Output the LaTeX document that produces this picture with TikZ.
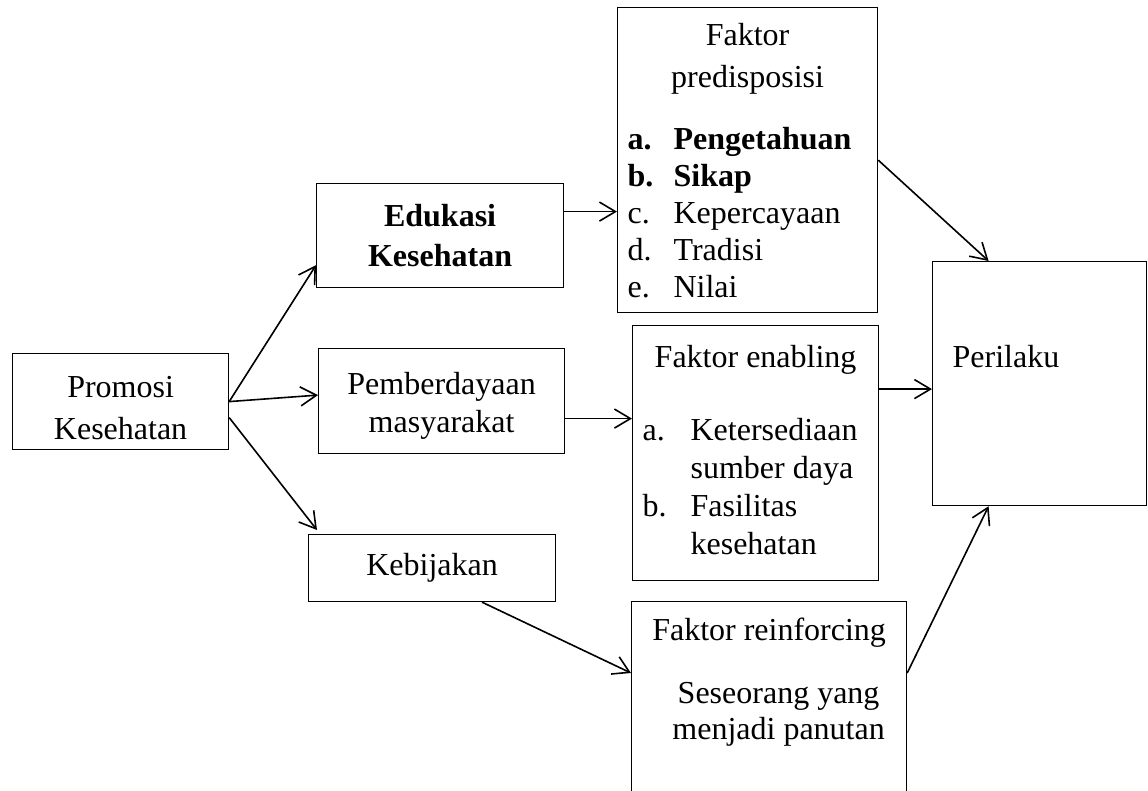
\documentclass[tikz,border=0pt]{standalone}
\usepackage{fontspec}
\setmainfont{Liberation Serif}
\usetikzlibrary{arrows.meta, positioning}

\begin{document}
\begin{tikzpicture}[x=0.5pt, y=-0.5pt,
    box/.style={draw, line width=0.6pt, inner sep=0pt, align=center,
      font=\fontsize{16}{21}\selectfont},
    arr/.style={-{Straight Barb[length=8pt,width=9.5pt]}, line width=0.8pt}]
      \useasboundingbox (0,0) rectangle (1148,791);
      \clip (0,0) rectangle (1148,791);
      \node[box, anchor=north west, minimum width=108pt, minimum height=48pt] (promosi) at (12,353) {\rule{0pt}{17pt}Promosi\\Kesehatan};
      \node[box, anchor=north west, minimum width=123.5pt, minimum height=52pt,
        font=\fontsize{16}{20}\selectfont\bfseries] (edukasi) at (316,183) {Edukasi\\Kesehatan};
      \node[box, anchor=north west, minimum width=123pt, minimum height=52.5pt,
        font=\fontsize{16}{19}\selectfont] (pemberdayaan) at (318,348) {\rule{0pt}{16pt}Pemberdayaan\\masyarakat};
      \node[box, anchor=north west, minimum width=123.5pt, minimum height=33.5pt] (kebijakan) at (308,534) {Kebijakan};
      \node[box, anchor=north west, minimum width=130pt, minimum height=152.5pt, inner xsep=5pt,
        font=\fontsize{16}{18.5}\selectfont] (predisposisi) at (617,7) {%
        \begin{tabular}{@{}p{23pt}@{}p{97pt}@{}}
          \multicolumn{2}{@{}c@{}}{\rule{0pt}{17pt}Faktor}\\[2.5pt]
          \multicolumn{2}{@{}c@{}}{predisposisi}\\[12.5pt]
          \textbf{a.} & \textbf{Pengetahuan}\\
          \textbf{b.} & \textbf{Sikap}\\
          c. & Kepercayaan\\
          d. & Tradisi\\
          e. & Nilai
        \end{tabular}};
      \node[box, anchor=north west, minimum width=123pt, minimum height=127.5pt, inner xsep=5pt,
        font=\fontsize{16}{19}\selectfont] (enabling) at (632,325) {%
        \begin{tabular}{@{}p{24pt}@{}p{89pt}@{}}
          \multicolumn{2}{@{}c@{}}{Faktor enabling}\\[17.5pt]
          a. & Ketersediaan\\
             & sumber daya\\
          b. & Fasilitas\\
             & kesehatan
        \end{tabular}};
      \node[box, anchor=north west, minimum width=137.5pt, inner ysep=7pt,
        font=\fontsize{16}{18}\selectfont] (reinforcing) at (631,601) {%
        \begin{tabular}{@{}c@{}}
          Faktor reinforcing\\[13.5pt]
          \hspace*{9.5pt}Seseorang yang\\
          \hspace*{9.5pt}menjadi panutan\\[70pt]
        \end{tabular}};
      \node[box, anchor=north west, inner xsep=10pt, text width=87pt, align=left,
        text height=53pt, text depth=69pt] (perilaku) at (932,261) {Perilaku};
      \draw[arr] (promosi.east) -- ([yshift=11.5pt]edukasi.south west);
      \draw[arr] (promosi.east) -- ([yshift=3pt]pemberdayaan.west);
      \draw[arr] ([yshift=-8pt]promosi.east) -- ([xshift=4.5pt,yshift=2pt]kebijakan.north west);
      \coordinate (e1) at ([yshift=12pt]edukasi.east);
      \draw[arr] (e1) -- (e1 -| predisposisi.west);
      \coordinate (p1) at ([yshift=-8.75pt]pemberdayaan.east);
      \draw[arr] (p1) -- (p1 -| enabling.west);
      \draw[arr] ([xshift=25pt]kebijakan.south) -- ([yshift=-36pt]reinforcing.north west);
      \draw[arr] (predisposisi.east) -- ([xshift=-25.5pt]perilaku.north);
      \coordinate (n1) at ([yshift=32pt]enabling.east);
      \draw[arr] (n1) -- (n1 -| perilaku.west);
      \draw[arr] ([yshift=-36pt]reinforcing.north east) -- ([xshift=-25.5pt]perilaku.south);
    \end{tikzpicture}
\end{document}
